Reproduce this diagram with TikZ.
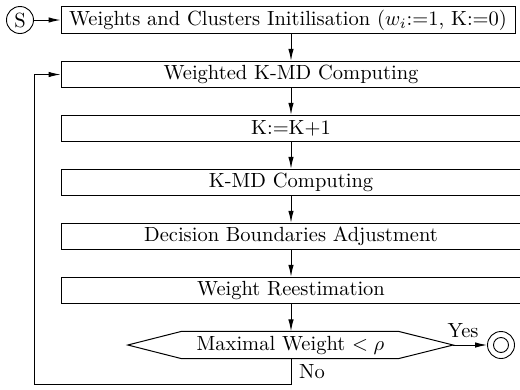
\documentclass[tikz,border=0pt]{standalone}
\usetikzlibrary{arrows.meta}
\newcommand{\bigtxt}[1]{\scalebox{2.05}{\fontsize{10}{12}\selectfont #1}}
\begin{document}
\begin{tikzpicture}[x=1pt,y=-1pt,
  every node/.style={inner sep=0pt},
  box/.style={draw, line width=1pt, minimum height=26.5pt},
  ln/.style={line width=1pt},
  arr/.style={ln, -{Latex[length=12pt,width=5.5pt]}},
  circ/.style={draw, circle, line width=0.9pt}]
\useasboundingbox (0,0) rectangle (520,389);
\node[circ, minimum size=27pt] (s) at (20,20) {\bigtxt{S}};
\node[box, minimum width=454pt] (b1) at (288,20) {\bigtxt{Weights and Clusters Initilisation ($w_i$:=1, K:=0)}};
\node[box, minimum width=460pt] (b2) at (291,74.5) {\bigtxt{Weighted K-MD Computing}};
\node[box, minimum width=460pt] (b3) at (291,128.5) {\bigtxt{K:=K+1}};
\node[box, minimum width=460pt] (b4) at (291,182.5) {\bigtxt{K-MD Computing}};
\node[box, minimum width=460pt] (b5) at (291,236.5) {\bigtxt{Decision Boundaries Adjustment}};
\node[box, minimum width=460pt] (b6) at (291,290.5) {\bigtxt{Weight Reestimation}};
\node[minimum width=325pt, minimum height=27pt] (dec) at (290.5,345) {\bigtxt{Maximal Weight $<\rho$}};
\draw[ln] (dec.west) -- ([xshift=54pt]dec.north west) -- ([xshift=-55pt]dec.north east) -- (dec.east) -- ([xshift=-55pt]dec.south east) -- ([xshift=54pt]dec.south west) -- cycle;
\node[circ, minimum size=27pt] (end) at (501,345) {};
\node[circ, minimum size=15pt] (endin) at (501,345) {};
\node (yes) at (463,331) {\bigtxt{Yes}};
\node (no) at (312,372) {\bigtxt{No}};
\coordinate (c1) at (291,384);
\coordinate (c2) at (34,384);
\coordinate (c3) at (34,74.5);
\draw[arr] (s) -- (b1);
\draw[arr] (b1.south -| b2.north) -- (b2);
\draw[arr] (b2) -- (b3);
\draw[arr] (b3) -- (b4);
\draw[arr] (b4) -- (b5);
\draw[arr] (b5) -- (b6);
\draw[arr] (b6.south) -- (b6.south |- dec.north);
\draw[arr] (dec.east) -- (end);
\draw[arr] (b6.south |- dec.south) -- (c1) -- (c2) -- (c3) -- (b2.west);
\end{tikzpicture}
\end{document}
